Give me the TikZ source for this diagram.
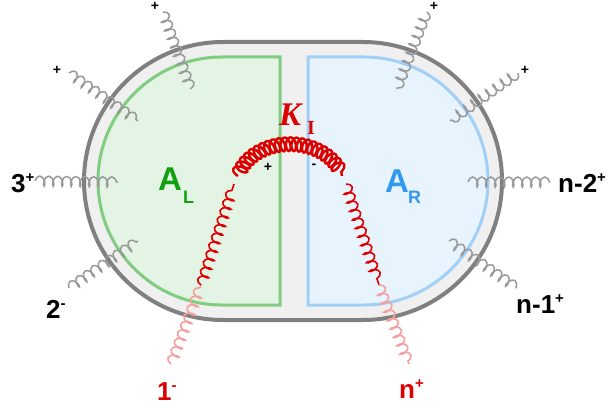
\documentclass[tikz,border=0pt]{standalone}
\usepackage{fontspec}
\setmainfont{Liberation Sans}
\newfontfamily\serifK{Liberation Serif}
\usetikzlibrary{decorations.pathmorphing}
\definecolor{outerline}{HTML}{808080}
\definecolor{outerfill}{HTML}{F0F0F0}
\definecolor{gline}{HTML}{80CC80}
\definecolor{gfill}{HTML}{E4F4E4}
\definecolor{bline}{HTML}{A0D0F8}
\definecolor{bfill}{HTML}{E8F4FD}
\definecolor{glab}{HTML}{11A011}
\definecolor{blab}{HTML}{3399EE}
\definecolor{kred}{HTML}{DD0000}
\definecolor{pale}{HTML}{F4A0A0}
\definecolor{gluongray}{HTML}{999999}
\newcommand\upsign[1]{\raisebox{10pt}{\fontsize{15}{15}\selectfont #1}}
\begin{document}
\begin{tikzpicture}[x=1pt,y=-1pt,
  extgluon/.style={draw=gluongray, line width=1.5pt, decorate,
    decoration={coil, aspect=0.5, amplitude=5pt, segment length=9pt}},
  leggluon/.style={line width=1.6pt, decorate,
    decoration={coil, aspect=0.5, amplitude=5pt, segment length=9pt}},
  arcgluon/.style={draw=kred, line width=2.4pt, decorate,
    decoration={coil, aspect=0.5, amplitude=7pt, segment length=5.5pt}},
  lab/.style={font=\fontsize{26}{26}\selectfont\bfseries, inner sep=0pt, anchor=base west},
  sign/.style={font=\fontsize{14}{14}\selectfont\bfseries, inner sep=0pt},
  bigA/.style={font=\fontsize{33}{33}\selectfont\bfseries, inner sep=0pt, anchor=base west},
  subA/.style={font=\fontsize{18}{18}\selectfont\bfseries, inner sep=0pt, anchor=base west}]
\useasboundingbox (0,0) rectangle (610,409);
% outer stadium
\draw[line width=4pt, draw=outerline, fill=outerfill, rounded corners=139pt] (84,42) rectangle (502,320);
% left region
\draw[line width=3pt, draw=gline, fill=gfill] (280,57) -- (222,57) arc[start angle=90, end angle=270, radius=124pt] -- (280,305) -- cycle;
% right region
\draw[line width=3pt, draw=bline, fill=bfill] (308,57) -- (364,57) arc[start angle=90, end angle=-90, radius=124pt] -- (308,305) -- cycle;
% labels of regions
\node[bigA, text=glab] (AL) at (158,190) {A};
\node[subA, text=glab] (ALs) at (183,203) {L};
\node[bigA, text=blab] (AR) at (385,192) {A};
\node[subA, text=blab] (ARs) at (408,203) {R};
\node[inner sep=0pt, anchor=base west, text=kred, font=\serifK\fontsize{33}{33}\selectfont\bfseries\itshape] (K) at (279,125) {K};
\node[inner sep=0pt, anchor=base west, text=kred, font=\serifK\fontsize{20}{20}\selectfont\bfseries] (Ks) at (307,135) {I};
% external gluon end points
\coordinate (g1a) at (163,12);  \coordinate (g1b) at (191,89);
\coordinate (g2a) at (69,73);   \coordinate (g2b) at (138,121);
\coordinate (g3a) at (35,181);  \coordinate (g3b) at (118,182);
\coordinate (g4a) at (69,288);  \coordinate (g4b) at (138,241);
\coordinate (g5a) at (427,12);  \coordinate (g5b) at (397,89);
\coordinate (g6a) at (518,73);  \coordinate (g6b) at (450,121);
\coordinate (g7a) at (468,182); \coordinate (g7b) at (550,182);
\coordinate (g8a) at (449,241); \coordinate (g8b) at (517,288);
\draw[extgluon] (g1a) -- (g1b);
\draw[extgluon] (g2a) -- (g2b);
\draw[extgluon] (g3a) -- (g3b);
\draw[extgluon] (g4a) -- (g4b);
\draw[extgluon] (g5a) -- (g5b);
\draw[extgluon] (g6a) -- (g6b);
\draw[extgluon] (g7a) -- (g7b);
\draw[extgluon] (g8a) -- (g8b);
% red gluon
\coordinate (r1) at (171,364); \coordinate (r2) at (201,285); \coordinate (r3) at (234,184);
\coordinate (r4) at (238,176); \coordinate (r5) at (342,176);
\coordinate (r6) at (346,184); \coordinate (r7) at (379,285); \coordinate (r8) at (409,364);
\draw[leggluon, draw=pale] (r1) -- (r2);
\draw[leggluon, draw=kred] (r2) -- (r3);
\draw[arcgluon] (r4) .. controls (255,134) and (325,134) .. (r5);
\draw[leggluon, draw=kred] (r6) -- (r7);
\draw[leggluon, draw=pale] (r7) -- (r8);
% signs
\node[sign] (s1) at (155,6) {+};
\node[sign] (s2) at (57,70) {+};
\node[sign] (s5) at (434,6) {+};
\node[sign] (s6) at (525,70) {+};
\node[sign] (sp) at (268,167) {+};
\node[sign] (sm) at (314,166) {-};
% leg labels
\node[lab] (L3) at (11,192) {3\upsign{+}};
\node[lab] (L2) at (46,318) {2\upsign{-}};
\node[lab] (Ln2) at (558,192) {n-2\upsign{+}};
\node[lab] (Ln1) at (516,313) {n-1\upsign{+}};
\node[lab, text=kred] (L1) at (157,400) {1\upsign{-}};
\node[lab, text=kred] (Ln) at (399,398) {n\upsign{+}};
\end{tikzpicture}
\end{document}
